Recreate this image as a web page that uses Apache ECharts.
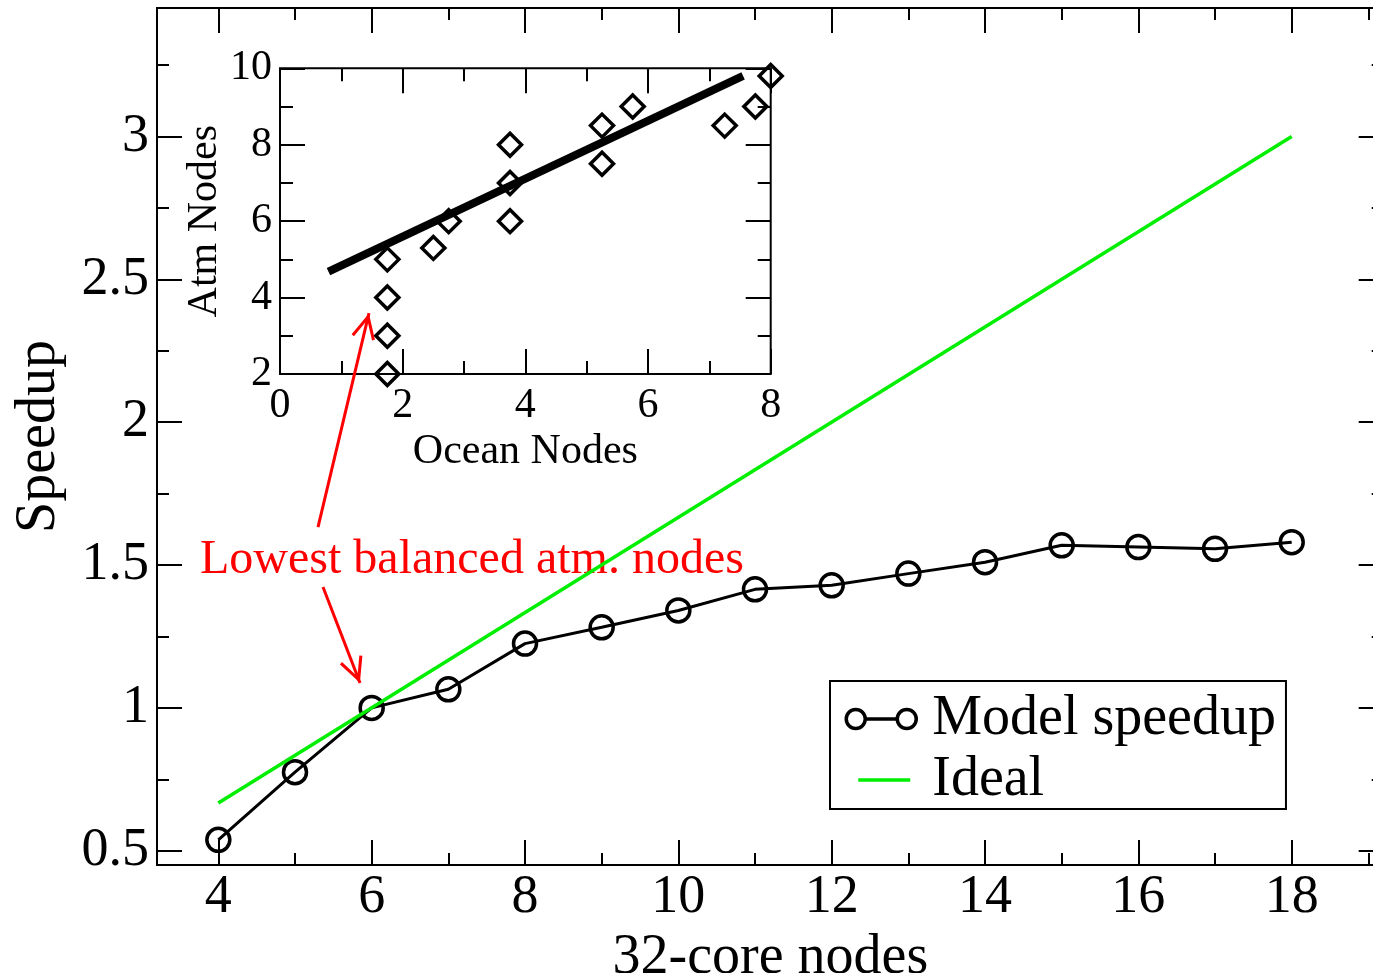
<!DOCTYPE html>
<html>
<head>
<meta charset="utf-8">
<title>Model speedup</title>
<script src="https://cdn.jsdelivr.net/npm/echarts@6/dist/echarts.min.js"></script>
<style>
  html, body { margin: 0; padding: 0; background: #fff; }
  #chart { width: 1373px; height: 973px; }
</style>
</head>
<body>
<div id="chart"></div>
<script>
// ---- main panel: speedup vs. number of 32-core nodes ----
const coreNodes = [4, 5, 6, 7, 8, 9, 10, 11, 12, 13, 14, 15, 16, 17, 18];
const modelSpeedup = [0.538, 0.775, 1.0, 1.065, 1.225, 1.282, 1.341, 1.415, 1.429, 1.470, 1.510, 1.569, 1.563, 1.557, 1.580];
const idealNodes = [4, 18];
const idealSpeedup = [0.667, 3.0];

// ---- inset: atmosphere vs. ocean node counts ----
const oceanNodes = [1.75, 1.75, 1.75, 1.75, 2.5, 2.75, 3.75, 3.75, 3.75, 5.25, 5.25, 5.75, 7.25, 7.75, 8.0];
const atmNodes   = [2.0, 3.0, 4.0, 5.0, 5.3, 6.0, 6.0, 7.0, 8.0, 7.5, 8.5, 9.0, 8.5, 9.0, 9.8];
const fitOcean = [0.79, 7.55];
const fitAtm   = [4.68, 9.8];

// ---- tick values ----
const mainXTicks = [4, 6, 8, 10, 12, 14, 16, 18];
const mainXMinor = [5, 7, 9, 11, 13, 15, 17, 19];
const mainYTicks = [0.5, 1, 1.5, 2, 2.5, 3];
const mainYMinor = [0.75, 1.25, 1.75, 2.25, 2.75, 3.25];
const insetXTicks = [0, 2, 4, 6, 8];
const insetXMinor = [1, 3, 5, 7];
const insetYTicks = [2, 4, 6, 8, 10];
const insetYMinor = [3, 5, 7, 9];

// ---- annotation ----
const noteText = 'Lowest balanced atm. nodes';
const noteAnchor = [3.755, 1.515];
const arrowUp   = [[5.30, 1.633], [5.965, 2.382]];
const arrowDown = [[5.365, 1.423], [5.848, 1.087]];

const SERIF = "'Liberation Serif', 'DejaVu Serif', serif";

function tickAxis(gridIndex, position, min, max, ticks, len, label, nameOpt) {
  const ax = {
    type: 'value', gridIndex, position, min, max,
    axisLine: { show: false, onZero: false },
    splitLine: { show: false },
    axisTick: { show: true, inside: true, length: len, customValues: ticks,
                lineStyle: { color: '#000', width: 2 } },
    axisLabel: label ? Object.assign({ customValues: ticks, color: '#000', fontFamily: SERIF }, label)
                     : { show: false }
  };
  return Object.assign(ax, nameOpt || {});
}

const xAxes = [
  tickAxis(0, 'bottom', 3.2, 19.2, mainXTicks, 25, { fontSize: 54, margin: 6 }, {
    name: '32-core nodes', nameLocation: 'middle', nameGap: 57,
    nameTextStyle: { fontSize: 56, fontFamily: SERIF, color: '#000' }
  }),
  tickAxis(0, 'bottom', 3.2, 19.2, mainXMinor, 12),
  tickAxis(0, 'top', 3.2, 19.2, mainXTicks, 25),
  tickAxis(0, 'top', 3.2, 19.2, mainXMinor, 12),
  tickAxis(1, 'bottom', 0, 8, insetXTicks, 25, { fontSize: 42, margin: 11 }, {
    name: 'Ocean Nodes', nameLocation: 'middle', nameGap: 57,
    nameTextStyle: { fontSize: 42, fontFamily: SERIF, color: '#000' }
  }),
  tickAxis(1, 'bottom', 0, 8, insetXMinor, 13),
  tickAxis(1, 'top', 0, 8, insetXTicks, 25),
  tickAxis(1, 'top', 0, 8, insetXMinor, 13)
];

const yAxes = [
  tickAxis(0, 'left', 0.45, 3.45, mainYTicks, 25, { fontSize: 54, margin: 8 }, {
    name: 'Speedup', nameLocation: 'middle', nameGap: 90,
    nameTextStyle: { fontSize: 56, fontFamily: SERIF, color: '#000' }
  }),
  tickAxis(0, 'left', 0.45, 3.45, mainYMinor, 12),
  tickAxis(0, 'right', 0.45, 3.45, mainYTicks, 25),
  tickAxis(0, 'right', 0.45, 3.45, mainYMinor, 12),
  tickAxis(1, 'left', 2, 10, insetYTicks, 25, { fontSize: 42, margin: 8 }, {
    name: 'Atm Nodes', nameLocation: 'middle', nameGap: 53,
    nameTextStyle: { fontSize: 42, fontFamily: SERIF, color: '#000' }
  }),
  tickAxis(1, 'left', 2, 10, insetYMinor, 13),
  tickAxis(1, 'right', 2, 10, insetYTicks, 25),
  tickAxis(1, 'right', 2, 10, insetYMinor, 13)
];

// open V arrow head; the phantom move keeps the tip at the symbol centre
const arrowHead = 'path://M12 -26 M12 0 L24 24 L21.3 25.4 L12 6.7 L2.7 25.4 L0 24 Z';
// legend glyphs: circle-line-circle, and a short green bar
const ringsIcon = 'path://M18.5 9 A9.5 9.5 0 1 1 -0.5 9 A9.5 9.5 0 1 1 18.5 9 Z ' +
                  'M69.5 9 A9.5 9.5 0 1 1 50.5 9 A9.5 9.5 0 1 1 69.5 9 Z M18.5 9 L50.5 9';
const barIcon = 'path://M-0.5 -0.5 M69.5 18.5 M11.5 9 L63.5 9';

const pairs = (xs, ys) => xs.map((x, i) => [x, ys[i]]);

const option = {
  animation: false,
  backgroundColor: '#fff',
  grid: [
    { left: 157, top: 8, width: 1226.7, height: 857, show: true, outerBoundsMode: 'none',
      containLabel: false, borderColor: '#000', borderWidth: 2, backgroundColor: 'transparent' },
    { left: 280, top: 68.3, width: 490.7, height: 305.7, show: true, outerBoundsMode: 'none',
      containLabel: false, borderColor: '#000', borderWidth: 2, backgroundColor: 'transparent' }
  ],
  xAxis: xAxes,
  yAxis: yAxes,
  legend: {
    left: 830, top: 681,
    orient: 'vertical',
    padding: [10, 10, 1, 14.5],
    itemGap: 5,
    itemWidth: 70, itemHeight: 19,
    backgroundColor: '#fff',
    borderColor: '#000', borderWidth: 2,
    selectedMode: false,
    textStyle: { fontSize: 56, fontFamily: SERIF, color: '#000', padding: [0, 0, 0, 11] },
    data: [
      { name: 'Model speedup', icon: ringsIcon,
        itemStyle: { color: 'rgba(0,0,0,0)', borderColor: '#000', borderWidth: 3.5 } },
      { name: 'Ideal', icon: barIcon,
        itemStyle: { color: 'rgba(0,0,0,0)', borderColor: '#00ee00', borderWidth: 3.5 } }
    ]
  },
  series: [
    {
      name: 'Model speedup', type: 'line', xAxisIndex: 0, yAxisIndex: 0,
      data: pairs(coreNodes, modelSpeedup),
      symbol: 'circle', symbolSize: 23,
      itemStyle: { color: 'rgba(0,0,0,0)', borderColor: '#000', borderWidth: 3.5, opacity: 1 },
      lineStyle: { color: '#000', width: 3 },
      z: 3,
      markPoint: {
        symbol: 'circle', symbolSize: 1,
        itemStyle: { color: 'rgba(0,0,0,0)' },
        label: { show: true, position: 'right', distance: 0, formatter: noteText,
                 color: '#ff0000', fontSize: 48, fontFamily: SERIF },
        data: [{ coord: noteAnchor }]
      },
      markLine: {
        silent: true,
        symbol: ['none', arrowHead],
        symbolSize: [24, 52],
        lineStyle: { color: '#ff0000', width: 3, type: 'solid' },
        label: { show: false },
        data: [
          [{ coord: arrowUp[0] }, { coord: arrowUp[1] }],
          [{ coord: arrowDown[0] }, { coord: arrowDown[1] }]
        ]
      }
    },
    {
      name: 'Ideal', type: 'line', xAxisIndex: 0, yAxisIndex: 0,
      data: pairs(idealNodes, idealSpeedup),
      symbol: 'none',
      itemStyle: { color: '#00ee00' },
      lineStyle: { color: '#00ee00', width: 3.5 },
      z: 6
    },
    {
      name: 'Balanced layouts', type: 'scatter', xAxisIndex: 4, yAxisIndex: 4,
      data: pairs(oceanNodes, atmNodes),
      symbol: 'diamond', symbolSize: 23,
      itemStyle: { color: 'rgba(0,0,0,0)', borderColor: '#000', borderWidth: 3.5, opacity: 1 },
      z: 3
    },
    {
      name: 'Fit', type: 'line', xAxisIndex: 4, yAxisIndex: 4,
      data: pairs(fitOcean, fitAtm),
      symbol: 'none',
      lineStyle: { color: '#000', width: 8, cap: 'butt' },
      z: 4
    }
  ]
};

const chart = echarts.init(document.getElementById('chart'), null, { renderer: 'canvas' });
chart.setOption(option);
</script>
</body>
</html>
